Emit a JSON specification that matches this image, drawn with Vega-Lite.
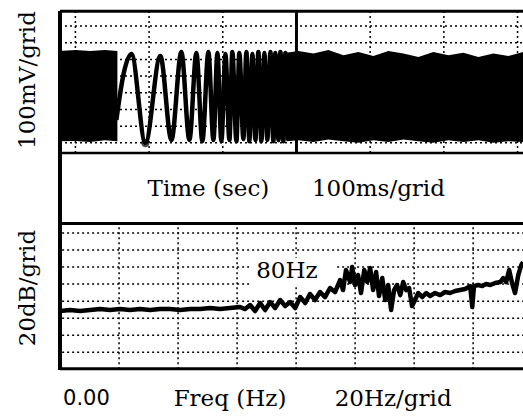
{
  "$schema": "https://vega.github.io/schema/vega-lite/v6.json",
  "width": 465,
  "height": 359,
  "autosize": {"type": "none"},
  "padding": {"left": 58, "top": 11, "right": 0, "bottom": 46},
  "background": "white",
  "config": {"view": {"stroke": null}, "text": {"font": "DejaVu Serif", "fontSize": 23, "color": "black"}},
  "datasets": {
    "one": [{}],
    "tgridH": [{"v": 400}, {"v": 300}, {"v": 200}, {"v": 100}, {"v": 0}, {"v": -100}, {"v": -200}, {"v": -300}],
    "tgridV": [{"t": 0}, {"t": 100}, {"t": 200}, {"t": 400}, {"t": 500}, {"t": 600}],
    "blocks": [
      {"block": "a", "t": -21.7, "hi": 250, "lo": -290},
      {"block": "a", "t": 0, "hi": 256, "lo": -289},
      {"block": "a", "t": 20, "hi": 250, "lo": -295},
      {"block": "a", "t": 40, "hi": 256, "lo": -285},
      {"block": "a", "t": 57, "hi": 250, "lo": -290},
      {"block": "b", "t": 286.3, "hi": 240, "lo": -290},
      {"block": "b", "t": 302.6, "hi": 250, "lo": -285},
      {"block": "b", "t": 323.0, "hi": 235, "lo": -295},
      {"block": "b", "t": 343.3, "hi": 256, "lo": -280},
      {"block": "b", "t": 363.7, "hi": 225, "lo": -290},
      {"block": "b", "t": 384.0, "hi": 245, "lo": -300},
      {"block": "b", "t": 404.4, "hi": 220, "lo": -285},
      {"block": "b", "t": 424.7, "hi": 250, "lo": -295},
      {"block": "b", "t": 445.1, "hi": 235, "lo": -280},
      {"block": "b", "t": 465.5, "hi": 215, "lo": -290},
      {"block": "b", "t": 485.8, "hi": 245, "lo": -300},
      {"block": "b", "t": 506.2, "hi": 225, "lo": -285},
      {"block": "b", "t": 526.5, "hi": 240, "lo": -295},
      {"block": "b", "t": 546.9, "hi": 215, "lo": -285},
      {"block": "b", "t": 567.3, "hi": 235, "lo": -300},
      {"block": "b", "t": 587.6, "hi": 220, "lo": -290},
      {"block": "b", "t": 607.4, "hi": 245, "lo": -295}
    ],
    "wave": [
      {"t": 55.6, "v": -163}, {"t": 65.1, "v": 107}, {"t": 76.0, "v": 232}, {"t": 95.0, "v": -301},
      {"t": 115.3, "v": 220}, {"t": 130.3, "v": -283}, {"t": 143.8, "v": 244}, {"t": 154.7, "v": -283},
      {"t": 164.2, "v": 238}, {"t": 172.3, "v": -290}, {"t": 180.5, "v": 244}, {"t": 187.3, "v": -283},
      {"t": 192.7, "v": 238}, {"t": 198.1, "v": -290}, {"t": 203.6, "v": 232}, {"t": 209.0, "v": -283},
      {"t": 213.0, "v": 244}, {"t": 218.5, "v": -290}, {"t": 222.5, "v": 238}, {"t": 228.0, "v": -277},
      {"t": 232.0, "v": 244}, {"t": 236.1, "v": -290}, {"t": 240.2, "v": 232}, {"t": 244.3, "v": -283},
      {"t": 248.3, "v": 244}, {"t": 252.4, "v": -290}, {"t": 256.5, "v": 238}, {"t": 260.5, "v": -283},
      {"t": 264.6, "v": 244}, {"t": 268.7, "v": -290}, {"t": 271.4, "v": 238}, {"t": 275.5, "v": -283},
      {"t": 278.2, "v": 244}, {"t": 282.3, "v": -290}, {"t": 285.0, "v": 238}, {"t": 289.0, "v": -283}
    ],
    "marker": [{"t": 95.0, "v": -301}],
    "ttext": [{"t": 180.5, "v": -576, "label": "Time (sec)"}, {"t": 411.2, "v": -576, "label": "100ms/grid"}],
    "trot": [{"t": -63.8, "v": 76.7, "label": "100mV/grid"}],
    "fgridH": [{"db": 0}, {"db": -20}, {"db": -40}, {"db": -60}, {"db": -80}, {"db": -100}, {"db": -120}, {"db": -140}],
    "fgridV": [{"f": 20}, {"f": 40}, {"f": 60}, {"f": 80}, {"f": 100}, {"f": 120}, {"f": 140}],
    "spectrum": [
      {"f": 0, "db": -91.6}, {"f": 3.4, "db": -90.5}, {"f": 6.8, "db": -91.6}, {"f": 10.2, "db": -90.5},
      {"f": 13.6, "db": -89.3}, {"f": 16.9, "db": -90.5}, {"f": 20.3, "db": -89.3}, {"f": 23.7, "db": -90.5},
      {"f": 27.1, "db": -89.3}, {"f": 30.5, "db": -90.5}, {"f": 33.9, "db": -89.3}, {"f": 37.3, "db": -89.3},
      {"f": 40.7, "db": -90.5}, {"f": 44.1, "db": -89.3}, {"f": 47.5, "db": -89.3}, {"f": 50.8, "db": -88.1},
      {"f": 54.2, "db": -89.3}, {"f": 57.6, "db": -88.1}, {"f": 61.0, "db": -86.9}, {"f": 62.7, "db": -89.3},
      {"f": 64.4, "db": -84.6}, {"f": 66.1, "db": -91.6}, {"f": 67.8, "db": -82.2}, {"f": 69.5, "db": -90.5},
      {"f": 71.2, "db": -81.1}, {"f": 72.9, "db": -88.1}, {"f": 74.6, "db": -78.7}, {"f": 76.3, "db": -85.8},
      {"f": 78.0, "db": -81.1}, {"f": 79.7, "db": -88.1}, {"f": 81.4, "db": -75.2}, {"f": 83.1, "db": -82.2},
      {"f": 84.7, "db": -71.7}, {"f": 86.4, "db": -78.7}, {"f": 88.1, "db": -69.3}, {"f": 89.8, "db": -75.2},
      {"f": 91.5, "db": -64.6}, {"f": 93.2, "db": -69.3}, {"f": 94.9, "db": -55.2}, {"f": 95.9, "db": -67.0},
      {"f": 96.9, "db": -43.5}, {"f": 98.3, "db": -57.6}, {"f": 99.0, "db": -39.9}, {"f": 100.0, "db": -61.1},
      {"f": 101.0, "db": -49.3}, {"f": 102.0, "db": -70.5}, {"f": 103.1, "db": -43.5}, {"f": 104.1, "db": -57.6},
      {"f": 105.1, "db": -41.1}, {"f": 106.1, "db": -67.0}, {"f": 107.1, "db": -45.8}, {"f": 108.1, "db": -74.0},
      {"f": 109.2, "db": -52.9}, {"f": 110.2, "db": -78.7}, {"f": 111.2, "db": -61.1}, {"f": 112.2, "db": -90.5},
      {"f": 113.2, "db": -67.0}, {"f": 114.2, "db": -61.1}, {"f": 115.3, "db": -72.9}, {"f": 116.3, "db": -57.6},
      {"f": 117.3, "db": -67.0}, {"f": 118.3, "db": -64.6}, {"f": 119.3, "db": -85.8}, {"f": 120.3, "db": -78.7},
      {"f": 121.4, "db": -70.5}, {"f": 122.7, "db": -75.2}, {"f": 124.1, "db": -70.5}, {"f": 125.4, "db": -74.0},
      {"f": 127.1, "db": -70.5}, {"f": 128.8, "db": -72.9}, {"f": 130.5, "db": -69.3}, {"f": 132.2, "db": -70.5},
      {"f": 133.9, "db": -68.1}, {"f": 135.6, "db": -67.0}, {"f": 137.3, "db": -65.8}, {"f": 139.0, "db": -62.3},
      {"f": 139.7, "db": -86.9}, {"f": 140.3, "db": -62.3}, {"f": 141.7, "db": -61.1}, {"f": 143.1, "db": -62.3},
      {"f": 144.4, "db": -59.9}, {"f": 145.8, "db": -61.1}, {"f": 147.5, "db": -58.7}, {"f": 149.2, "db": -57.6},
      {"f": 150.2, "db": -52.9}, {"f": 151.2, "db": -57.6}, {"f": 152.2, "db": -43.5}, {"f": 153.2, "db": -58.7},
      {"f": 154.2, "db": -70.5}, {"f": 155.3, "db": -49.3}, {"f": 156.3, "db": -37.6}, {"f": 156.9, "db": -34.1}
    ],
    "ftext": [
      {"f": 1.0, "db": -195, "label": "0.00"}
    ],
    "ftextc": [
      {"f": 57.6, "db": -195, "label": "Freq (Hz)"},
      {"f": 112.9, "db": -195, "label": "20Hz/grid"},
      {"f": 76.9, "db": -44.6, "label": "80Hz"}
    ],
    "frot": [{"f": -10.8, "db": -64.6, "label": "20dB/grid"}]
  },
  "resolve": {"scale": {"x": "independent", "y": "independent"}},
  "layer": [
    {
      "layer": [
        {
          "data": {"name": "tgridH"},
          "mark": {"type": "rule", "strokeDash": [2, 3], "strokeWidth": 1.5, "color": "black"},
          "encoding": {
            "x": {"datum": -20.9, "type": "quantitative", "scale": {"domain": [-23.6, 607.4], "nice": false, "zero": false}, "axis": null},
            "x2": {"datum": 607.4},
            "y": {"field": "v", "type": "quantitative", "scale": {"domain": [-1660.9, 490.1], "nice": false, "zero": false}, "axis": null}
          }
        },
        {
          "data": {"name": "tgridV"},
          "mark": {"type": "rule", "strokeDash": [2, 3], "strokeWidth": 1.5, "color": "black"},
          "encoding": {
            "x": {"field": "t", "type": "quantitative", "scale": {"domain": [-23.6, 607.4], "nice": false, "zero": false}, "axis": null},
            "y": {"datum": -360, "type": "quantitative", "scale": {"domain": [-1660.9, 490.1], "nice": false, "zero": false}, "axis": null},
            "y2": {"datum": 490}
          }
        },
        {
          "data": {"name": "blocks"},
          "mark": {"type": "area", "color": "black", "opacity": 1},
          "encoding": {
            "x": {"field": "t", "type": "quantitative", "scale": {"domain": [-23.6, 607.4], "nice": false, "zero": false}, "axis": null},
            "y": {"field": "hi", "type": "quantitative", "scale": {"domain": [-1660.9, 490.1], "nice": false, "zero": false}, "axis": null},
            "y2": {"field": "lo"},
            "detail": {"field": "block", "type": "nominal"}
          }
        },
        {
          "data": {"name": "wave"},
          "mark": {"type": "line", "color": "black", "strokeWidth": 4.5, "interpolate": "monotone"},
          "encoding": {
            "x": {"field": "t", "type": "quantitative", "scale": {"domain": [-23.6, 607.4], "nice": false, "zero": false}, "axis": null},
            "y": {"field": "v", "type": "quantitative", "scale": {"domain": [-1660.9, 490.1], "nice": false, "zero": false}, "axis": null}
          }
        },
        {
          "data": {"name": "marker"},
          "mark": {"type": "point", "filled": false, "color": "black", "strokeWidth": 2, "size": 40},
          "encoding": {
            "x": {"field": "t", "type": "quantitative", "scale": {"domain": [-23.6, 607.4], "nice": false, "zero": false}, "axis": null},
            "y": {"field": "v", "type": "quantitative", "scale": {"domain": [-1660.9, 490.1], "nice": false, "zero": false}, "axis": null}
          }
        },
        {
          "data": {"name": "one"},
          "mark": {"type": "rule", "color": "black", "strokeWidth": 3},
          "encoding": {
            "x": {"datum": 300, "type": "quantitative", "scale": {"domain": [-23.6, 607.4], "nice": false, "zero": false}, "axis": null},
            "y": {"datum": -360, "type": "quantitative", "scale": {"domain": [-1660.9, 490.1], "nice": false, "zero": false}, "axis": null},
            "y2": {"datum": 490}
          }
        },
        {
          "data": {"name": "one"},
          "mark": {"type": "rule", "color": "black", "strokeWidth": 4},
          "encoding": {
            "x": {"datum": -20.9, "type": "quantitative", "scale": {"domain": [-23.6, 607.4], "nice": false, "zero": false}, "axis": null},
            "y": {"datum": -1660.9, "type": "quantitative", "scale": {"domain": [-1660.9, 490.1], "nice": false, "zero": false}, "axis": null},
            "y2": {"datum": 490.1}
          }
        },
        {
          "data": {"name": "one"},
          "mark": {"type": "rule", "color": "black", "strokeWidth": 3},
          "encoding": {
            "x": {"datum": -20.9, "type": "quantitative", "scale": {"domain": [-23.6, 607.4], "nice": false, "zero": false}, "axis": null},
            "x2": {"datum": 607.4},
            "y": {"datum": 489, "type": "quantitative", "scale": {"domain": [-1660.9, 490.1], "nice": false, "zero": false}, "axis": null}
          }
        },
        {
          "data": {"name": "one"},
          "mark": {"type": "rule", "color": "black", "strokeWidth": 2.5},
          "encoding": {
            "x": {"datum": -20.9, "type": "quantitative", "scale": {"domain": [-23.6, 607.4], "nice": false, "zero": false}, "axis": null},
            "x2": {"datum": 607.4},
            "y": {"datum": -360, "type": "quantitative", "scale": {"domain": [-1660.9, 490.1], "nice": false, "zero": false}, "axis": null}
          }
        },
        {
          "data": {"name": "ttext"},
          "mark": {"type": "text", "align": "center", "baseline": "middle", "fontSize": 23},
          "encoding": {
            "x": {"field": "t", "type": "quantitative", "scale": {"domain": [-23.6, 607.4], "nice": false, "zero": false}, "axis": null},
            "y": {"field": "v", "type": "quantitative", "scale": {"domain": [-1660.9, 490.1], "nice": false, "zero": false}, "axis": null},
            "text": {"field": "label"}
          }
        },
        {
          "data": {"name": "trot"},
          "mark": {"type": "text", "align": "center", "baseline": "middle", "angle": 270, "fontSize": 23},
          "encoding": {
            "x": {"field": "t", "type": "quantitative", "scale": {"domain": [-23.6, 607.4], "nice": false, "zero": false}, "axis": null},
            "y": {"field": "v", "type": "quantitative", "scale": {"domain": [-1660.9, 490.1], "nice": false, "zero": false}, "axis": null},
            "text": {"field": "label"}
          }
        }
      ]
    },
    {
      "layer": [
        {
          "data": {"name": "fgridH"},
          "mark": {"type": "rule", "strokeDash": [2, 3], "strokeWidth": 1.5, "color": "black"},
          "encoding": {
            "x": {"datum": 0.7, "type": "quantitative", "scale": {"domain": [-0.7, 156.9], "nice": false, "zero": false}, "axis": null},
            "x2": {"datum": 156.9},
            "y": {"field": "db", "type": "quantitative", "scale": {"domain": [-160.9, 260.8], "nice": false, "zero": false}, "axis": null}
          }
        },
        {
          "data": {"name": "fgridV"},
          "mark": {"type": "rule", "strokeDash": [2, 3], "strokeWidth": 1.5, "color": "black"},
          "encoding": {
            "x": {"field": "f", "type": "quantitative", "scale": {"domain": [-0.7, 156.9], "nice": false, "zero": false}, "axis": null},
            "y": {"datum": -160, "type": "quantitative", "scale": {"domain": [-160.9, 260.8], "nice": false, "zero": false}, "axis": null},
            "y2": {"datum": 11.2}
          }
        },
        {
          "data": {"name": "one"},
          "mark": {"type": "rect", "color": "white"},
          "encoding": {
            "x": {"datum": 64.4, "type": "quantitative", "scale": {"domain": [-0.7, 156.9], "nice": false, "zero": false}, "axis": null},
            "x2": {"datum": 93.2},
            "y": {"datum": -29.4, "type": "quantitative", "scale": {"domain": [-160.9, 260.8], "nice": false, "zero": false}, "axis": null},
            "y2": {"datum": -62.3}
          }
        },
        {
          "data": {"name": "spectrum"},
          "mark": {"type": "line", "color": "black", "strokeWidth": 4.5, "strokeJoin": "round"},
          "encoding": {
            "x": {"field": "f", "type": "quantitative", "scale": {"domain": [-0.7, 156.9], "nice": false, "zero": false}, "axis": null},
            "y": {"field": "db", "type": "quantitative", "scale": {"domain": [-160.9, 260.8], "nice": false, "zero": false}, "axis": null}
          }
        },
        {
          "data": {"name": "one"},
          "mark": {"type": "rule", "color": "black", "strokeWidth": 3},
          "encoding": {
            "x": {"datum": 0, "type": "quantitative", "scale": {"domain": [-0.7, 156.9], "nice": false, "zero": false}, "axis": null},
            "x2": {"datum": 156.9},
            "y": {"datum": 11.2, "type": "quantitative", "scale": {"domain": [-160.9, 260.8], "nice": false, "zero": false}, "axis": null}
          }
        },
        {
          "data": {"name": "one"},
          "mark": {"type": "rule", "color": "black", "strokeWidth": 3},
          "encoding": {
            "x": {"datum": 0, "type": "quantitative", "scale": {"domain": [-0.7, 156.9], "nice": false, "zero": false}, "axis": null},
            "x2": {"datum": 156.9},
            "y": {"datum": -159.5, "type": "quantitative", "scale": {"domain": [-160.9, 260.8], "nice": false, "zero": false}, "axis": null}
          }
        },
        {
          "data": {"name": "ftext"},
          "mark": {"type": "text", "align": "left", "baseline": "middle", "fontSize": 21, "font": "DejaVu Sans"},
          "encoding": {
            "x": {"field": "f", "type": "quantitative", "scale": {"domain": [-0.7, 156.9], "nice": false, "zero": false}, "axis": null},
            "y": {"field": "db", "type": "quantitative", "scale": {"domain": [-160.9, 260.8], "nice": false, "zero": false}, "axis": null},
            "text": {"field": "label"}
          }
        },
        {
          "data": {"name": "ftextc"},
          "mark": {"type": "text", "align": "center", "baseline": "middle", "fontSize": 23},
          "encoding": {
            "x": {"field": "f", "type": "quantitative", "scale": {"domain": [-0.7, 156.9], "nice": false, "zero": false}, "axis": null},
            "y": {"field": "db", "type": "quantitative", "scale": {"domain": [-160.9, 260.8], "nice": false, "zero": false}, "axis": null},
            "text": {"field": "label"}
          }
        },
        {
          "data": {"name": "frot"},
          "mark": {"type": "text", "align": "center", "baseline": "middle", "angle": 270, "fontSize": 23},
          "encoding": {
            "x": {"field": "f", "type": "quantitative", "scale": {"domain": [-0.7, 156.9], "nice": false, "zero": false}, "axis": null},
            "y": {"field": "db", "type": "quantitative", "scale": {"domain": [-160.9, 260.8], "nice": false, "zero": false}, "axis": null},
            "text": {"field": "label"}
          }
        }
      ]
    }
  ]
}
